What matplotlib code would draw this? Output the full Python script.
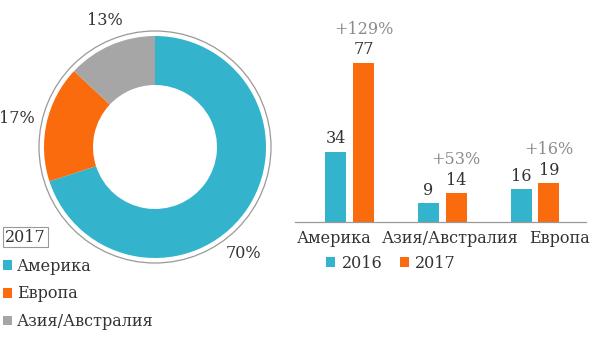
import numpy as np
import matplotlib
matplotlib.use("Agg")
import matplotlib.pyplot as plt
from matplotlib.patches import Patch, Circle

plt.rcParams["font.family"] = ["DejaVu Serif"]

# donut, 2017 shares
regions = ["Америка", "Европа", "Азия/Австралия"]
shares = [70, 17, 13]
share_labels = ["70%", "17%", "13%"]

# bars
categories = ["Америка", "Азия/Австралия", "Европа"]
values_2016 = [34, 9, 16]
values_2017 = [77, 14, 19]
growth = ["+129%", "+53%", "+16%"]

teal = "#33b3cc"
orange = "#f96b0c"
gray = "#a6a6a6"
text_c = "#333333"
pct_c = "#8c8c8c"

fig = plt.figure(figsize=(5.91, 3.43), dpi=100)

# ---- donut ----
W, H = 591, 343
cx, cy, r = 155, 147, 111
half = 1.25 * r
ax1 = fig.add_axes([(cx - half) / W, (H - cy - half) / H, 2 * half / W, 2 * half / H])
ax1.pie(shares, colors=[teal, orange, gray], startangle=90, counterclock=False,
        radius=1.0, wedgeprops=dict(width=49 / r, edgecolor="none"))
ax1.add_patch(Circle((0, 0), 116 / r, fill=False, edgecolor="#999999", lw=0.9))
ax1.set_xlim(-1.25, 1.25)
ax1.set_ylim(-1.25, 1.25)
ax1.set_aspect("equal")
ax1.axis("off")

label_pos = [(0.80, -0.955), (-1.243, 0.26), (-0.45, 1.144)]
for (x, y), t in zip(label_pos, share_labels):
    ax1.text(x, y, t, ha="center", va="center", fontsize=11.5, color=text_c)

fig.text(5 / W, 1 - 237 / H, "2017", ha="left", va="center", fontsize=11.5, color=text_c,
         bbox=dict(boxstyle="square,pad=0.12", fc="white", ec="#999999", lw=0.8))

handles = [Patch(facecolor=c, edgecolor="none") for c in [teal, orange, gray]]
fig.legend(handles, regions, loc="upper left", bbox_to_anchor=(0.002, 1 - 256 / H),
           frameon=False, fontsize=11.5, handlelength=0.55, handleheight=0.55,
           handletextpad=0.35, labelspacing=0.68, borderaxespad=0, borderpad=0.1,
           labelcolor=text_c)

# ---- bars ----
ax2 = fig.add_axes([295 / W, (H - 222) / H, 291 / W, 202 / H])
x = np.arange(len(categories))
bw = 0.226
off = 0.15
b1 = ax2.bar(x - off, values_2016, bw, color=teal, label="2016")
b2 = ax2.bar(x + off, values_2017, bw, color=orange, label="2017")
ax2.set_xlim(-0.59, 2.55)
ax2.set_ylim(0, 97.6)

for bars in (b1, b2):
    for b in bars:
        ax2.annotate(str(int(b.get_height())), (b.get_x() + b.get_width() / 2, b.get_height()),
                     xytext=(0, 3), textcoords="offset points", ha="center", va="bottom",
                     fontsize=11.5, color=text_c)
for b, g in zip(b2, growth):
    ax2.annotate(g, (b.get_x() + b.get_width() / 2, b.get_height()),
                 xytext=(0, 18), textcoords="offset points", ha="center", va="bottom",
                 fontsize=11.5, color=pct_c)

for s in ["top", "right", "left"]:
    ax2.spines[s].set_visible(False)
ax2.spines["bottom"].set_color("#999999")
ax2.spines["bottom"].set_linewidth(0.9)
ax2.set_yticks([])
# labels spread out so the long middle one fits
ax2.set_xticks(x + np.array([-0.17, 0.08, 0.26]))
ax2.set_xticklabels(categories, fontsize=11.5, color=text_c)
ax2.tick_params(axis="x", length=0, pad=6)
ax2.legend(loc="center", bbox_to_anchor=(0.33, -0.203), ncol=2, frameon=False,
           fontsize=11.5, handlelength=0.55, handleheight=0.55, handletextpad=0.4,
           columnspacing=1.1, labelcolor=text_c)

fig.savefig("out.png", dpi=100)
